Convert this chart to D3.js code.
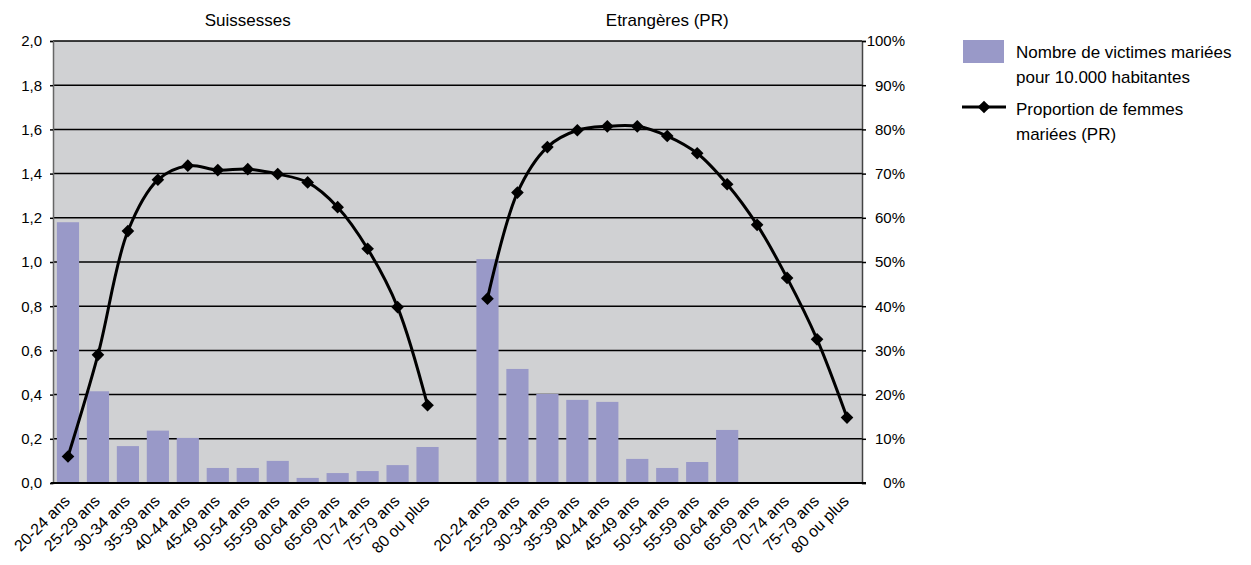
<!DOCTYPE html>
<html>
<head>
<meta charset="utf-8">
<script src="https://cdn.jsdelivr.net/npm/d3@7"></script>
<style>
  html, body { margin: 0; padding: 0; background: #fff; }
  svg { display: block; font-family: "Liberation Sans", Arial, sans-serif; }
</style>
</head>
<body>
<svg id="chart" width="1251" height="565"></svg>
<script>
// Age groups shared by both panels
const ageGroups = ["20-24 ans", "25-29 ans", "30-34 ans", "35-39 ans", "40-44 ans", "45-49 ans",
  "50-54 ans", "55-59 ans", "60-64 ans", "65-69 ans", "70-74 ans", "75-79 ans", "80 ou plus"];

const groupTitles = ["Suissesses", "Etrangères (PR)"];

// Married victims per 10,000 inhabitants (left axis)
const swissVictims = [1.18, 0.415, 0.167, 0.237, 0.204, 0.068, 0.068, 0.10, 0.023, 0.045, 0.054, 0.081, 0.163];
const foreignVictims = [1.013, 0.516, 0.403, 0.376, 0.367, 0.109, 0.068, 0.095, 0.24, null, null, null, null];

// Share of married women, in percent (right axis)
const swissMarried = [6, 29, 57, 68.6, 71.8, 70.8, 71, 69.9, 68, 62.4, 53, 39.8, 17.6];
const foreignMarried = [41.7, 65.7, 76, 79.8, 80.7, 80.7, 78.5, 74.6, 67.6, 58.4, 46.4, 32.5, 14.8];

const leftTicks = [0, 0.2, 0.4, 0.6, 0.8, 1.0, 1.2, 1.4, 1.6, 1.8, 2.0];
const rightTicks = [0, 10, 20, 30, 40, 50, 60, 70, 80, 90, 100];

const legendLabels = [["Nombre de victimes mariées", "pour 10.000 habitantes"],
                      ["Proportion de femmes", "mariées (PR)"]];

const svg = d3.select("#chart");
const plot = { left: 53, right: 862, top: 41, bottom: 483 };
const barColor = "#9999c8";

// 13 slots per panel, one empty slot between the panels
const slots = d3.range(ageGroups.length * 2 + 1);
const x = d3.scaleBand().domain(slots).range([plot.left, plot.right])
  .paddingInner(0.26).paddingOuter(0.13);
const yLeft = d3.scaleLinear().domain([0, 2]).range([plot.bottom, plot.top]);
const yRight = d3.scaleLinear().domain([0, 100]).range([plot.bottom, plot.top]);

const slotOf = (g, i) => g * (ageGroups.length + 1) + i;

// plot background
svg.append("rect")
  .attr("x", plot.left).attr("y", plot.top)
  .attr("width", plot.right - plot.left).attr("height", plot.bottom - plot.top)
  .attr("fill", "#d0d1d3");

// gridlines
svg.append("g").selectAll("line").data(leftTicks.slice(1)).join("line")
  .attr("x1", plot.left).attr("x2", plot.right)
  .attr("y1", d => yLeft(d)).attr("y2", d => yLeft(d))
  .attr("stroke", "#000").attr("stroke-width", 1.5);

// bars
const barData = [];
[swissVictims, foreignVictims].forEach((vals, g) => {
  vals.forEach((v, i) => { if (v != null) barData.push({ slot: slotOf(g, i), v }); });
});
svg.append("g").selectAll("rect").data(barData).join("rect")
  .attr("x", d => x(d.slot)).attr("width", x.bandwidth())
  .attr("y", d => yLeft(d.v)).attr("height", d => yLeft(0) - yLeft(d.v))
  .attr("fill", barColor);

// left axis
const axL = svg.append("g").attr("transform", `translate(${plot.left},0)`)
  .call(d3.axisLeft(yLeft).tickValues(leftTicks).tickSize(3).tickPadding(8)
    .tickFormat(d => d3.format(".1f")(d).replace(".", ",")));
axL.select(".domain").attr("stroke", "#666").attr("stroke-width", 1.5);
axL.selectAll(".tick line").attr("stroke-width", 1.5);
axL.selectAll("text").attr("font-size", 15).attr("fill", "#000")
  .attr("font-family", "Liberation Sans, Arial, sans-serif");

// right axis
const axR = svg.append("g").attr("transform", `translate(${plot.right},0)`)
  .call(d3.axisRight(yRight).tickValues(rightTicks).tickSize(4).tickPadding(0)
    .tickFormat(d => d + "%"));
axR.select(".domain").attr("stroke", "#444").attr("stroke-width", 1.5);
axR.selectAll(".tick line").attr("stroke-width", 1.5);
axR.selectAll("text").attr("font-size", 15).attr("fill", "#000")
  .attr("text-anchor", "end").attr("x", 43)
  .attr("font-family", "Liberation Sans, Arial, sans-serif");

// bottom axis line
svg.append("line")
  .attr("x1", plot.left - 2).attr("x2", plot.right + 4)
  .attr("y1", plot.bottom).attr("y2", plot.bottom)
  .attr("stroke", "#000").attr("stroke-width", 2);

// category labels, rotated
const catLabels = [];
[0, 1].forEach(g => ageGroups.forEach((a, i) => catLabels.push({ slot: slotOf(g, i), a })));
svg.append("g").selectAll("text").data(catLabels).join("text")
  .attr("transform", d => `translate(${x(d.slot) + x.bandwidth() / 2 + 3},${plot.bottom + 19}) rotate(-45)`)
  .attr("text-anchor", "end")
  .attr("font-size", 16)
  .attr("fill", "#000")
  .text(d => d.a);

// panel titles
groupTitles.forEach((t, g) => {
  const first = x(slotOf(g, 0));
  const last = x(slotOf(g, ageGroups.length - 1)) + x.bandwidth();
  svg.append("text")
    .attr("x", (first + last) / 2).attr("y", 26)
    .attr("text-anchor", "middle").attr("font-size", 17).attr("fill", "#000")
    .text(t);
});

// married-share lines with diamond markers
const line = d3.line()
  .x(d => x(d.slot) + x.bandwidth() / 2)
  .y(d => yRight(d.v))
  .curve(d3.curveCatmullRom.alpha(0.5));
const diamond = d3.symbol().type(d3.symbolSquare).size(80);

[swissMarried, foreignMarried].forEach((vals, g) => {
  const pts = vals.map((v, i) => ({ slot: slotOf(g, i), v }));
  svg.append("path").datum(pts)
    .attr("d", line).attr("fill", "none")
    .attr("stroke", "#000").attr("stroke-width", 3).attr("stroke-linejoin", "round");
  svg.append("g").selectAll("path").data(pts).join("path")
    .attr("transform", d => `translate(${x(d.slot) + x.bandwidth() / 2},${yRight(d.v)}) rotate(45)`)
    .attr("d", diamond).attr("fill", "#000");
});

// legend
const lg = svg.append("g").attr("font-size", 17).attr("fill", "#000");
lg.append("rect").attr("x", 963).attr("y", 40).attr("width", 41).attr("height", 23).attr("fill", barColor);
lg.append("line").attr("x1", 962).attr("x2", 1006).attr("y1", 107).attr("y2", 107)
  .attr("stroke", "#000").attr("stroke-width", 3);
lg.append("path").attr("transform", "translate(984,107) rotate(45)").attr("d", diamond).attr("fill", "#000");
legendLabels.forEach((lines, k) => {
  lines.forEach((s, j) => {
    lg.append("text").attr("x", 1016).attr("y", 58 + k * 57 + j * 25).text(s);
  });
});
</script>
</body>
</html>
